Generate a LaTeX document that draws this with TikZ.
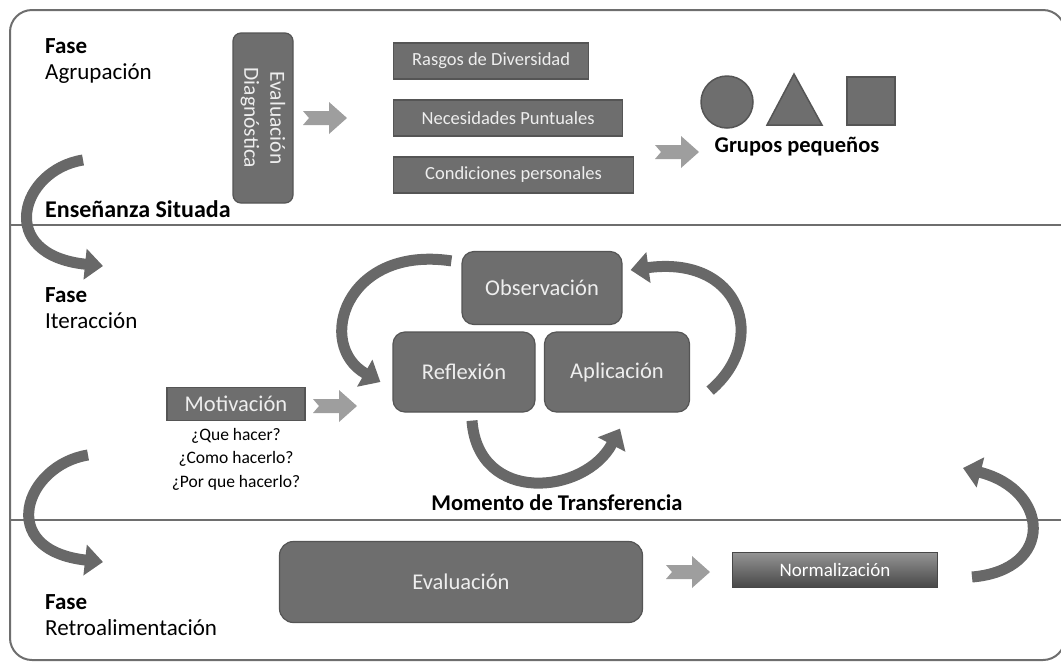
\documentclass[tikz,border=0pt]{standalone}
\usepackage{fontspec}
\setmainfont{Carlito}
\usetikzlibrary{arrows.meta,positioning,calc,shapes.geometric}

\definecolor{boxgray}{HTML}{6E6E6E}
\definecolor{edgegray}{HTML}{555555}
\definecolor{linegray}{HTML}{6E6E6E}
\definecolor{arrowgray}{HTML}{9E9E9E}
\definecolor{curvegray}{HTML}{686868}
\definecolor{txtlight}{HTML}{EEEEEE}

\newcommand{\fsz}[2]{\fontsize{#1}{#2}\selectfont}

\tikzset{
    notcharrow/.pic={
        \fill[arrowgray] (-22,-7) -- (4,-7) -- (4,-16) -- (22,0) -- (4,16) -- (4,7) -- (-22,7) -- (-16,0) -- cycle;
    }
}

\begin{document}
\begin{tikzpicture}[x=1pt, y=-1pt,
    frame/.style={draw=linegray, line width=2pt},
    phasetxt/.style={anchor=west, align=left, inner sep=0, font=\fsz{23}{26}},
    tagbox/.style={draw=edgegray, line width=1.2pt, fill=boxgray, text=txtlight, minimum height=36, inner sep=2, font=\fsz{18.5}{22}},
    cyclebox/.style={draw=edgegray, line width=1.2pt, fill=boxgray, text=txtlight, rounded corners=12, inner sep=2, font=\fsz{22.5}{26}},
    normbox/.style={draw=black!72, line width=1pt, top color=black!42, bottom color=black!72, text=white, inner sep=2, font=\fsz{19}{22}},
    shapefill/.style={draw=edgegray, line width=1.5pt, fill=boxgray, inner sep=0},
    boldtxt/.style={font=\bfseries\fsz{22.5}{26}, inner sep=1},
    curvearr/.style={draw=curvegray, line width=11pt, -{Triangle[length=18pt, width=30pt]}}
]
\useasboundingbox (0,0) rectangle (1061,665);

% marco y franjas
\draw[frame, rounded corners=22] (10,10) rectangle (1065,660);
\draw[frame] (10,225) -- (1065,225);
\draw[frame] (10,520) -- (1065,520);

% fase agrupacion
\node[phasetxt] (ph1) at (45,61) {\textbf{Fase}\\Agrupación};
\node[boldtxt, anchor=west, font=\bfseries\fsz{24}{28}] (ens) at (44,209) {Enseñanza Situada};
\node[cyclebox, rotate=-90, rounded corners=8, minimum width=170, minimum height=60, align=center, font=\fsz{21.5}{26}] (diag) at (263,118) {Evaluación\\Diagnóstica};
\pic at (325,118) {notcharrow};
\node[tagbox, minimum width=195, anchor=west] (rasgos) at (393,61) {Rasgos de Diversidad};
\node[tagbox, minimum width=229, anchor=west] (necs) at (393,118) {Necesidades Puntuales};
\node[tagbox, minimum width=240, anchor=west] (conds) at (393,175) {Condiciones personales};
\pic at (677,152) {notcharrow};
\node[shapefill, circle, minimum size=52] (circ) at (727,102) {};
\draw[shapefill] (767,125) -- (794,74) -- (822,125) -- cycle;
\node[shapefill, minimum size=48] (sq) at (871,101) {};
\node[boldtxt] (grupos) at (797,147) {Grupos pequeños};

% fase iteraccion
\coordinate (a1s) at (83,160);
\coordinate (a1e) at (103,266);
\draw[curvearr] (a1s) .. controls (20,170) and (-5,255) .. (a1e);
\node[phasetxt] (ph2) at (45,308) {\textbf{Fase}\\Iteracción};
\node[tagbox, minimum width=138, minimum height=33, font=\fsz{22.5}{26}] (motiv) at (236,404) {Motivación};
\node[anchor=north, align=center, inner sep=1, font=\fsz{17.5}{23.5}] (preg) at ($(motiv.south)+(0,6)$) {¿Que hacer?\\¿Como hacerlo?\\¿Por que hacerlo?};
\pic at (335,406) {notcharrow};
\node[cyclebox, minimum width=160, minimum height=73] (obs) at (542,288) {Observación};
\node[cyclebox, minimum width=142, minimum height=80] (refl) at (464,372) {Reflexión};
\node[cyclebox, minimum width=145, minimum height=80] (apli) at (617,372) {Aplicación};
\draw[curvearr] ($(obs.north west)+(-10,10)$) .. controls (345,245) and (315,345) .. ($(refl.west)+(-12,10)$);
\draw[curvearr] ($(apli.south east)+(20,-22)$) .. controls (770,340) and (740,255) .. ($(obs.east)+(8,-18)$);
\draw[curvearr] ($(refl.south)+(8,8)$) .. controls (478,505) and (585,495) .. ($(apli.south)+(3,16)$);
\node[boldtxt] (momento) at (557,503) {Momento de Transferencia};

% fase retroalimentacion
\coordinate (a2s) at (88,455);
\coordinate (a2e) at (103,562);
\draw[curvearr] (a2s) .. controls (25,465) and (-5,550) .. (a2e);
\node[phasetxt] (ph3) at (45,615) {\textbf{Fase}\\Retroalimentación};
\node[cyclebox, rounded corners=14, minimum width=363, minimum height=81] (eval) at (461,582) {Evaluación};
\pic at (688,572) {notcharrow};
\node[normbox, minimum width=205, minimum height=35] (norm) at (835,570) {Normalización};
\draw[curvearr] ($(norm.east)+(34,7)$) .. controls (1055,570) and (1050,490) .. ($(norm.east)+(25,-102)$);
\end{tikzpicture}
\end{document}
